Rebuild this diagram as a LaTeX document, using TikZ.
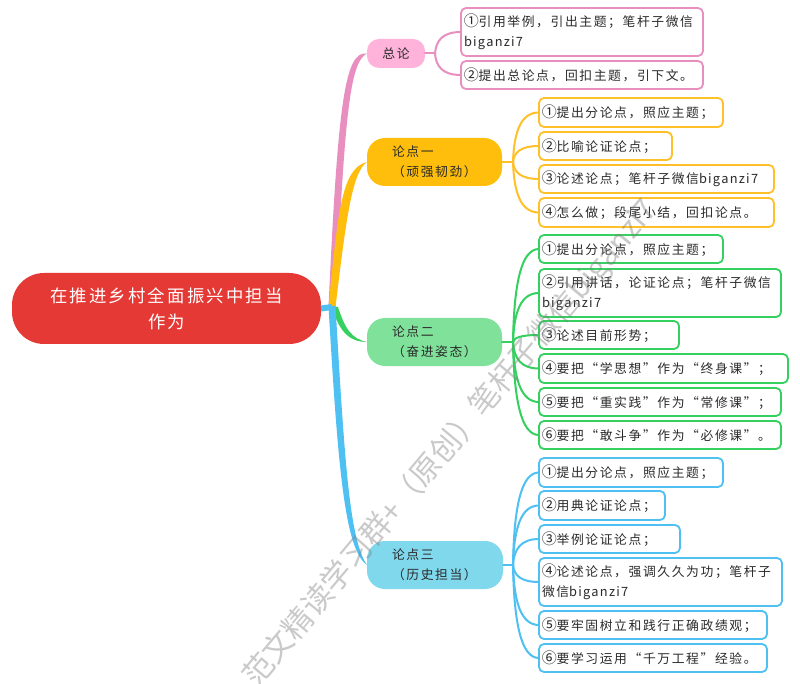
\documentclass[tikz,border=0pt]{standalone}
\usepackage{fontspec}
\usetikzlibrary{calc}
\setmainfont[LetterSpace=12.5]{Noto Sans CJK SC}
\newfontfamily\wmfont{Noto Sans CJK SC}
\newfontfamily\latfont[LetterSpace=10]{Noto Sans CJK SC}
\newfontfamily\cifont{Noto Sans CJK SC}
\newcommand{\bz}{{\latfont biganzi7}}
\newcommand{\ci}[1]{\makebox[14.6pt][c]{\cifont\fontsize{15}{20}\selectfont #1}}
\definecolor{cpink}{HTML}{E88FC0}
\definecolor{fpink}{HTML}{FFB3DA}
\definecolor{corange}{HTML}{FFC02A}
\definecolor{forange}{HTML}{FFBE0B}
\definecolor{cgreen}{HTML}{35D05F}
\definecolor{fgreen}{HTML}{80E29A}
\definecolor{cblue}{HTML}{4FC0F2}
\definecolor{fblue}{HTML}{7FD8EC}
\definecolor{froot}{HTML}{E53935}
\definecolor{ink}{HTML}{2A2A2A}
\tikzset{
  mm/.style={rectangle,inner sep=0pt,outer sep=0pt,text=ink,font=\fontsize{12.8}{20}\selectfont},
  leaf/.style={mm,draw,fill=white,line width=1.8pt,rounded corners=5pt,align=left},
  lpink/.style={leaf,draw=cpink},
  lorange/.style={leaf,draw=corange},
  lgreen/.style={leaf,draw=cgreen},
  lblue/.style={leaf,draw=cblue},
  topic/.style={mm,rounded corners=18pt,align=left},
  rootnode/.style={mm,rounded corners=32pt,fill=froot,text=white,align=center,font=\fontsize{17.4}{26}\selectfont},
  link/.style={line width=2pt,line cap=round},
  wm/.style={inner sep=0pt,rotate=50,anchor=west,text=gray,opacity=.42,font=\wmfont\fontsize{30.5}{30.5}\selectfont},
}
% name, x1, y1, x2, y2, style, pad, text
\newcommand{\bx}[8]{%
  \pgfmathsetmacro\bw{#4-#2}\pgfmathsetmacro\bh{#5-#3}\pgfmathsetmacro\tw{\bw-2*#7}%
  \node[#6,minimum width=\bw pt,minimum height=\bh pt,text width=\tw pt] (#1) at ({(#2+#4)/2},{(#3+#5)/2}) {#8};}
% branch from a hub to a leaf
\newcommand{\branch}[3]{%
  \draw[link,#1] (#2) .. controls ($(#2)!0.62!(#2 |- #3.west)+(1,0)$) and ($(#2 |- #3.west)+(8,0)$) .. (#3.west);}
\begin{document}
\begin{tikzpicture}[x=1pt,y=-1pt]
\useasboundingbox (0,0) rectangle (800,684);
\clip (0,0) rectangle (800,684);
\fill[white] (0,0) rectangle (800,684);
\coordinate (hub) at (332,307);
% nodes
\bx{root}{12}{273}{321}{344}{rootnode}{20}{在推进乡村全面振兴中担当\\作为}
\bx{zong}{367}{39}{425}{68}{topic,fill=fpink,rounded corners=12pt,align=center}{2}{总论}
\bx{lda}{367}{138}{502}{186}{topic,fill=forange}{25}{论点一\\（顽强韧劲）}
\bx{ldb}{367}{318}{502}{366}{topic,fill=fgreen}{25}{论点二\\（奋进姿态）}
\bx{ldc}{367}{541}{503}{589}{topic,fill=fblue}{25}{论点三\\（历史担当）}

\bx{a1}{461}{8}{703}{56}{lpink}{3}{\ci{①}引用举例，引出主题；笔杆子微信\\\bz}
\bx{a2}{461}{61}{703}{89}{lpink}{3}{\ci{②}提出总论点，回扣主题，引下文。}

\bx{b1}{539}{98}{723}{127}{lorange}{3}{\ci{①}提出分论点，照应主题；}
\bx{b2}{539}{132}{672}{160}{lorange}{3}{\ci{②}比喻论证论点；}
\bx{b3}{539}{165}{774}{193}{lorange}{3}{\ci{③}论述论点；笔杆子微信\bz}
\bx{b4}{539}{198}{774}{227}{lorange}{3}{\ci{④}怎么做；段尾小结，回扣论点。}

\bx{c1}{539}{235}{723}{263}{lgreen}{3}{\ci{①}提出分论点，照应主题；}
\bx{c2}{539}{269}{781}{317}{lgreen}{3}{\ci{②}引用讲话，论证论点；笔杆子微信\\\bz}
\bx{c3}{539}{321}{679}{349}{lgreen}{3}{\ci{③}论述目前形势；}
\bx{c4}{539}{354}{788}{383}{lgreen}{3}{\ci{④}要把“学思想”作为“终身课”；}
\bx{c5}{539}{388}{781}{416}{lgreen}{3}{\ci{⑤}要把“重实践”作为“常修课”；}
\bx{c6}{539}{421}{781}{449}{lgreen}{3}{\ci{⑥}要把“敢斗争”作为“必修课”。}

\bx{d1}{539}{458}{723}{487}{lblue}{3}{\ci{①}提出分论点，照应主题；}
\bx{d2}{539}{491}{665}{520}{lblue}{3}{\ci{②}用典论证论点；}
\bx{d3}{539}{525}{680}{553}{lblue}{3}{\ci{③}举例论证论点；}
\bx{d4}{539}{558}{782}{606}{lblue}{3}{\ci{④}论述论点，强调久久为功；笔杆子\\微信\bz}
\bx{d5}{539}{611}{767}{639}{lblue}{3}{\ci{⑤}要牢固树立和践行正确政绩观；}
\bx{d6}{539}{644}{767}{672}{lblue}{3}{\ci{⑥}要学习运用“千万工程”经验。}

% trunk connectors
\fill[cpink] ($(hub)+(-3.5,0)$) .. controls ($(hub)+(6,-206)$) and ($(zong.west)+(-22,-3)$) .. (zong.west)
  .. controls ($(zong.west)+(-17,9)$) and ($(hub)+(13,-197)$) .. ($(hub)+(3.5,0)$) -- cycle;
\fill[forange] ($(hub)+(-3.5,0)$) .. controls ($(hub)+(6,-97)$) and ($(lda.west)+(-25,6)$) .. (lda.west)
  .. controls ($(lda.west)+(-15,10)$) and ($(hub)+(14,-87)$) .. ($(hub)+(3.5,0)$) -- cycle;
\fill[cgreen] ($(hub)+(0,0)$) .. controls ($(hub)+(8,28)$) and ($(ldb.west)+(-15,0)$) .. (ldb.west)
  .. controls ($(ldb.west)+(-15,-3)$) and ($(hub)+(13,22)$) .. ($(hub)+(6,0)$) -- cycle;
\draw[cblue,line width=6pt] (root.east) -- (hub);
\fill[cblue] ($(hub)+(-3.5,-1)$) .. controls ($(hub)+(6,163)$) and ($(ldc.west)+(-22,-15)$) .. (ldc.west)
  .. controls ($(ldc.west)+(-17,-25)$) and ($(hub)+(13,163)$) .. ($(hub)+(3.5,-1)$) -- cycle;

% branches
\coordinate (hz) at ($(zong.east)+(10,0)$);
\draw[link,cpink] (zong.east) -- (hz);
\foreach \k in {a1,a2} {\branch{cpink}{hz}{\k}}
\coordinate (ha) at ($(lda.east)+(11,0)$);
\draw[link,corange] (lda.east) -- (ha);
\foreach \k in {b1,b2,b3,b4} {\branch{corange}{ha}{\k}}
\coordinate (hb) at ($(ldb.east)+(11,0)$);
\draw[link,cgreen] (ldb.east) -- (hb);
\foreach \k in {c1,c2,c3,c4,c5,c6} {\branch{cgreen}{hb}{\k}}
\coordinate (hc) at ($(ldc.east)+(10,0)$);
\draw[link,cblue] (ldc.east) -- (hc);
\foreach \k in {d1,d2,d3,d4,d5,d6} {\branch{cblue}{hc}{\k}}

% watermark
\node[wm] (mark) at (250,683) {范文精读学习群+（原创）笔杆子微信biganzi7};
\end{tikzpicture}
\end{document}
